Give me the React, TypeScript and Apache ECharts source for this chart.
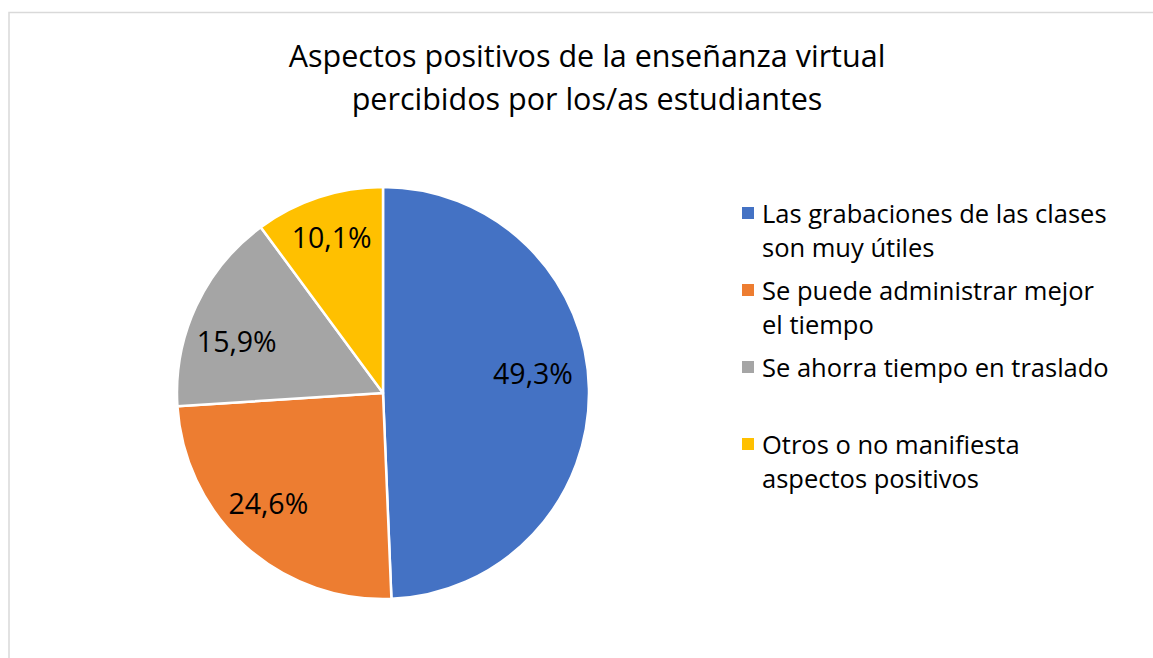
import React, { useEffect, useRef } from "react";
import * as echarts from "echarts";

const titleLines = [
  "Aspectos positivos de la enseñanza virtual",
  "percibidos por los/as estudiantes",
];
const categories = [
  "Las grabaciones de las clases\nson muy útiles",
  "Se puede administrar mejor\nel tiempo",
  "Se ahorra tiempo en traslado\n ",
  "Otros o no manifiesta\naspectos positivos",
];
const values = [49.3, 24.6, 15.9, 10.1];
const colors = ["#4472C4", "#ED7D31", "#A5A5A5", "#FFC000"];

// small nudges that imitate Excel's "best fit" label placement
const labelNudges = [
  [-8, -17],
  [-9, -7],
  [-3, 15],
  [-2, -6],
];

const FONT = "'Open Sans', 'Noto Sans', sans-serif";

export default function App() {
  const ref = useRef<HTMLDivElement>(null);
  useEffect(() => {
    document.body.style.margin = "0";
    const chart = echarts.init(ref.current!, null, { renderer: "svg" });
    const data = categories.map((name, i) => ({
      name,
      value: values[i],
      itemStyle: { color: colors[i] },
    }));
    chart.setOption({
      animation: false,
      backgroundColor: "#ffffff",
      textStyle: { fontFamily: FONT },
      title: {
        text: titleLines.join("\n"),
        left: 587,
        textAlign: "center",
        top: 33,
        padding: 0,
        textStyle: {
          fontFamily: FONT,
          fontSize: 30.5,
          fontWeight: "normal",
          color: "#000000",
          lineHeight: 43,
        },
      },
      graphic: [
        {
          type: "rect",
          shape: { x: 9, y: 12.5, width: 1200, height: 700 },
          style: { fill: "none", stroke: "#d9d9d9", lineWidth: 1.5 },
          silent: true,
          z: -10,
        },
      ],
      legend: {
        orient: "vertical",
        left: 742,
        top: 196,
        padding: 0,
        itemGap: 9,
        itemWidth: 15,
        itemHeight: 46,
        icon: "path://M0,0h12v12h-12z M0,46h15",
        itemStyle: { borderWidth: 0 },
        data: categories,
        textStyle: {
          fontFamily: FONT,
          fontSize: 25.5,
          lineHeight: 34,
          color: "#000000",
        },
      },
      series: [
        {
          type: "pie",
          center: [383, 393],
          radius: [0, 206],
          startAngle: 90,
          clockwise: true,
          silent: true,
          label: { show: false },
          labelLine: { show: false },
          itemStyle: { borderColor: "#ffffff", borderWidth: 2.5 },
          data,
        },
        {
          type: "pie",
          center: [383, 393],
          radius: [0, 310],
          startAngle: 90,
          clockwise: true,
          silent: true,
          z: 5,
          itemStyle: { color: "transparent", borderWidth: 0 },
          labelLine: { show: false },
          label: {
            show: true,
            position: "inside",
            fontFamily: FONT,
            fontSize: 28.5,
            color: "#000000",
            formatter: (p: any) => p.value.toFixed(1).replace(".", ",") + "%",
          },
          labelLayout: (p: any) => ({
            dx: labelNudges[p.dataIndex][0],
            dy: labelNudges[p.dataIndex][1],
          }),
          data: categories.map((name, i) => ({ name, value: values[i] })),
        },
      ],
    });
    return () => chart.dispose();
  }, []);
  return <div ref={ref} style={{ width: 1153, height: 658 }} />;
}
